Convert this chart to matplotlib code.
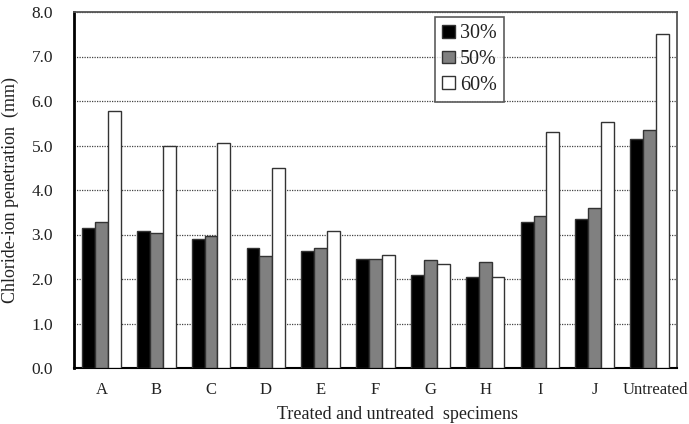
import numpy as np
import matplotlib
matplotlib.use("Agg")
import matplotlib.pyplot as plt
from matplotlib.transforms import ScaledTranslation

categories = ["A", "B", "C", "D", "E", "F", "G", "H", "I", "J", "Untreated"]
series_names = ["30%", "50%", "60%"]
vals_30 = [3.15, 3.08, 2.90, 2.70, 2.63, 2.45, 2.10, 2.05, 3.27, 3.35, 5.15]
vals_50 = [3.27, 3.03, 2.97, 2.52, 2.70, 2.45, 2.42, 2.38, 3.42, 3.60, 5.35]
vals_60 = [5.78, 5.00, 5.05, 4.50, 3.07, 2.53, 2.33, 2.05, 5.30, 5.52, 7.50]
yticks = [0.0, 1.0, 2.0, 3.0, 4.0, 5.0, 6.0, 7.0, 8.0]

plt.rcParams['font.family'] = ['Liberation Serif', 'DejaVu Serif']
txt = "#222222"

fig = plt.figure(figsize=(6.89, 4.24), dpi=100)
ax = fig.add_axes([74 / 689, 1 - 368 / 424, 603 / 689, 356 / 424])

x = np.arange(len(categories))
w = 0.235
colors = ["black", "#808080", "white"]
for k, vals in enumerate([vals_30, vals_50, vals_60]):
    ax.bar(x + (k - 1) * w, vals, w, color=colors[k], edgecolor="#333333",
           linewidth=1.0, label=series_names[k], zorder=3)

ax.set_xlim(-0.5, len(categories) - 0.5)
ax.set_ylim(0, 8)
ax.set_yticks(yticks)
ax.set_yticklabels(["%.1f" % v for v in yticks], fontsize=12.5, color=txt)
ax.set_xticks(x)
ax.set_xticklabels(categories, fontsize=12, color=txt)
ax.tick_params(axis="x", length=0, pad=10)
ax.tick_params(axis="y", length=0, pad=15)
# nudge the long last label to the right, like the original
lab = ax.get_xticklabels()[-1]
lab.set_transform(lab.get_transform() + ScaledTranslation(6 / 100, 0, fig.dpi_scale_trans))
ax.yaxis.grid(True, linestyle=(0, (1, 1)), color="#444444", linewidth=0.9, zorder=0)

ax.spines["left"].set_linewidth(2.0)
ax.spines["left"].set_color("black")
ax.spines["bottom"].set_linewidth(1.5)
ax.spines["bottom"].set_color("black")
for s in ["top", "right"]:
    ax.spines[s].set_color("#555555")
    ax.spines[s].set_linewidth(1.3)

ax.set_ylabel("Chloride-ion penetration  (mm)", fontsize=13, labelpad=9, color=txt)
ax.set_xlabel("Treated and untreated  specimens", fontsize=13, labelpad=6, color=txt)
ax.xaxis.label.set_x(0.536)

leg = ax.legend(loc="upper left", bbox_to_anchor=(361 / 603, 0.985), fontsize=14.5,
                frameon=True, fancybox=False, edgecolor="#333333",
                handlelength=0.65, handleheight=0.6, handletextpad=0.25,
                labelspacing=0.33, borderpad=0.35, borderaxespad=0.0)
leg.get_frame().set_linewidth(1.2)
for t in leg.get_texts():
    t.set_color(txt)

fig.savefig("out.png", dpi=100)
